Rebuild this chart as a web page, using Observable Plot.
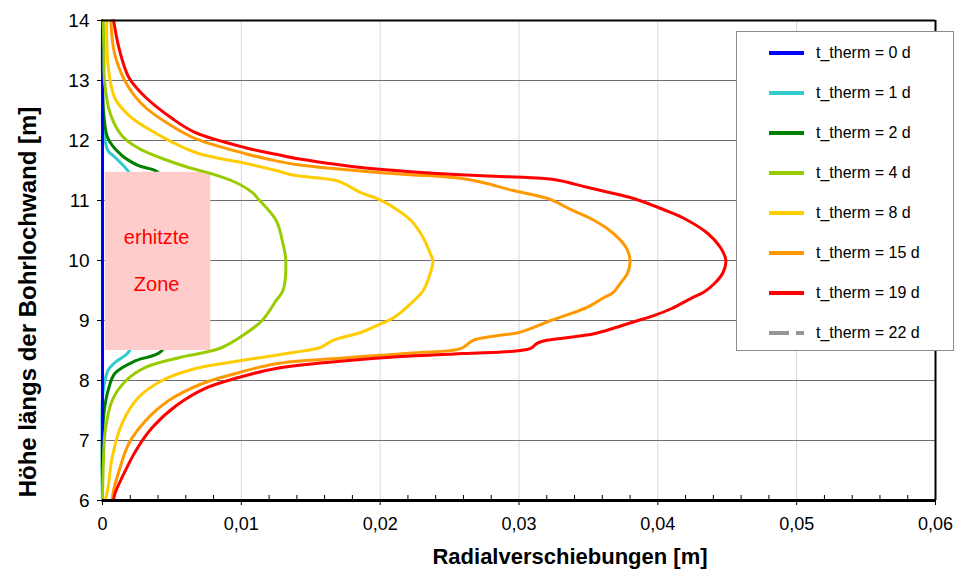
<!DOCTYPE html>
<html><head><meta charset="utf-8">
<script src="https://cdn.jsdelivr.net/npm/d3@7"></script>
<script src="https://cdn.jsdelivr.net/npm/@observablehq/plot@0.6"></script>
<style>
body{margin:0;background:#fff;font-family:"Liberation Sans",Arial,sans-serif;}
#wrap{position:relative;width:955px;height:569px;overflow:hidden;}
#legend{position:absolute;left:736px;top:31px;width:216px;height:318px;border:1px solid #8c8c8c;background:#fff;}
.row{position:absolute;left:0;width:216px;height:24px;}
.row svg{position:absolute;left:32px;top:10px;}
.row span{position:absolute;left:79px;top:0;font-size:16px;line-height:24px;white-space:nowrap;color:#000;}
#ytitle{position:absolute;left:28px;top:302px;transform:translate(-50%,-50%) rotate(-90deg);font-weight:bold;font-size:24px;white-space:nowrap;line-height:24px;}
#xtitle{position:absolute;left:570px;top:546px;transform:translateX(-50%);font-weight:bold;font-size:22px;white-space:nowrap;line-height:22px;}
</style></head><body><div id="wrap"></div>
<script>
// ---- data ----
const xTicks = [0, 0.01, 0.02, 0.03, 0.04, 0.05, 0.06];
const xMinor = [0.002,0.004,0.006,0.008,0.012,0.014,0.016,0.018,0.022,0.024,0.026,0.028,0.032,0.034,0.036,0.038,0.042,0.044,0.046,0.048,0.052,0.054,0.056,0.058];
const yTicks = [6, 7, 8, 9, 10, 11, 12, 13, 14];
const xGrid = [0.01, 0.02, 0.03, 0.04, 0.05];
const yGrid = [7, 8, 9, 10, 11, 12, 13];

const seriesNames = ["t_therm = 0 d","t_therm = 1 d","t_therm = 2 d","t_therm = 4 d","t_therm = 8 d","t_therm = 15 d","t_therm = 19 d","t_therm = 22 d"];
const seriesColors = ["#0000ff","#33cccc","#008000","#99cc00","#ffcc00","#ff9900","#ff0000","#969696"];

const h0 = [14, 6];
const v0 = [0, 0];

const h1 = [14, 12.6, 12.25, 12.1, 11.83, 11.72, 11.47, 11.0, 10.0, 9.0, 8.48, 8.3, 8.17, 7.9, 7.72, 6.0];
const v1 = [0, 0, 0, 0.0001, 0.0004, 0.0009, 0.0019, 0.0026, 0.0030, 0.0026, 0.0019, 0.0009, 0.0004, 0.0001, 0, 0];

const h2 = [14, 13.08, 12.42, 12.03, 11.75, 11.58, 11.47, 11.0, 10.0, 9.0, 8.48, 8.33, 8.12, 7.83, 7.45, 7.0, 6.0];
const v2 = [0, 0, 0.0001, 0.0004, 0.0014, 0.0026, 0.0040, 0.0052, 0.0058, 0.0052, 0.0042, 0.0024, 0.0009, 0.0004, 0.0001, 0, 0];

const h4 = [14, 13.5, 12.97, 12.42, 12.08, 11.87, 11.7, 11.55, 11.45, 11.3, 11.13, 11.03, 10.67, 10.28, 10.0, 9.5, 9.33, 9.0, 8.75, 8.55, 8.47, 8.38, 8.22, 8.0, 7.67, 7.17, 6.55, 6.0];
const v4 = [0.00005, 0.0001, 0.00015, 0.0006, 0.0014, 0.0026, 0.0043, 0.0062, 0.0078, 0.0096, 0.0108, 0.0112, 0.0125, 0.0130, 0.0132, 0.0130, 0.0125, 0.0115, 0.0101, 0.0086, 0.0074, 0.0055, 0.0031, 0.0017, 0.0007, 0.0002, 0.00005, 0];

const h8 = [14, 13.25, 12.7, 12.42, 12.22, 11.8, 11.62, 11.5, 11.42, 11.33, 11.22, 11.13, 11.03, 10.88, 10.67, 10.38, 10.12, 10.0, 9.78, 9.5, 9.28, 9.05, 8.92, 8.8, 8.67, 8.55, 8.47, 8.42, 8.3, 8.2, 8.0, 7.72, 7.28, 6.72, 6.22, 6.0];
const v8 = [0.0003, 0.0004, 0.0009, 0.0019, 0.0031, 0.0067, 0.0103, 0.0125, 0.0138, 0.0169, 0.0179, 0.0186, 0.0198, 0.0210, 0.0222, 0.0231, 0.0236, 0.0238, 0.0236, 0.0231, 0.0222, 0.0210, 0.0198, 0.0186, 0.0166, 0.0157, 0.0138, 0.0125, 0.0091, 0.0067, 0.0043, 0.0026, 0.0014, 0.0007, 0.0004, 0.0002];

const h15 = [14, 13.42, 12.88, 12.55, 12.27, 12.03, 11.78, 11.66, 11.59, 11.54, 11.49, 11.43, 11.4, 11.37, 11.3, 11.17, 11.03, 10.83, 10.67, 10.45, 10.22, 10.0, 9.78, 9.62, 9.47, 9.38, 9.22, 9.0, 8.8, 8.75, 8.67, 8.53, 8.47, 8.42, 8.37, 8.28, 8.13, 7.95, 7.67, 7.33, 6.95, 6.5, 6.17, 6.0];
const v15 = [0.0006, 0.0009, 0.0019, 0.0031, 0.0048, 0.0067, 0.0103, 0.0125, 0.0142, 0.0162, 0.0186, 0.0222, 0.0244, 0.0258, 0.0274, 0.0295, 0.0321, 0.0339, 0.0354, 0.0368, 0.0377, 0.0380, 0.0378, 0.0373, 0.0368, 0.0361, 0.0349, 0.0323, 0.0300, 0.0285, 0.0267, 0.0258, 0.0231, 0.0200, 0.0171, 0.0125, 0.0098, 0.0072, 0.0048, 0.0031, 0.0019, 0.0012, 0.0008, 0.0007];

const h19 = [14, 13.53, 13.05, 12.72, 12.37, 12.13, 11.88, 11.77, 11.69, 11.62, 11.55, 11.48, 11.43, 11.4, 11.37, 11.33, 11.22, 11.15, 11.03, 10.85, 10.7, 10.45, 10.22, 10.0, 9.8, 9.62, 9.47, 9.37, 9.2, 9.08, 8.98, 8.87, 8.78, 8.72, 8.67, 8.62, 8.53, 8.45, 8.4, 8.32, 8.2, 8.05, 7.87, 7.58, 7.22, 6.83, 6.38, 6.12, 6.0];
const v19 = [0.0008, 0.0012, 0.0019, 0.0031, 0.0050, 0.0067, 0.0103, 0.0125, 0.0142, 0.0162, 0.0186, 0.0222, 0.0258, 0.0287, 0.0316, 0.0330, 0.0349, 0.0362, 0.0383, 0.0404, 0.0419, 0.0436, 0.0445, 0.0449, 0.0447, 0.0441, 0.0433, 0.0424, 0.0410, 0.0397, 0.0383, 0.0368, 0.0354, 0.0337, 0.0320, 0.0313, 0.0308, 0.0260, 0.0215, 0.0171, 0.0125, 0.0098, 0.0074, 0.0053, 0.0036, 0.0024, 0.0014, 0.0009, 0.0008];

const zone = [{x1: 0.0002, x2: 0.0078, y1: 8.5, y2: 11.47}];
const zoneLabels = [{t: "erhitzte", x: 0.0039, y: 10.38}, {t: "Zone", x: 0.0039, y: 9.6}];

// ---- build ----
const rows = (h, v) => h.map((d, i) => ({h: d, v: v[i]}));
const line = (h, v, k) => Plot.line(rows(h, v), {x: "v", y: "h", stroke: seriesColors[k], strokeWidth: 3, curve: "catmull-rom"});
const fmt = d => d === 0 ? "0" : d.toFixed(2).replace(".", ",");

const chart = Plot.plot({
  width: 955, height: 569,
  marginLeft: 102, marginRight: 20, marginTop: 20, marginBottom: 69,
  style: {fontFamily: '"Liberation Sans", Arial, sans-serif', fontSize: "18px", color: "#000", background: "#fff", overflow: "visible"},
  x: {domain: [0, 0.06]},
  y: {domain: [6, 14]},
  marks: [
    Plot.gridX(xGrid, {stroke: "#d9d9d9", strokeOpacity: 1}),
    Plot.gridY(yGrid, {stroke: "#6e6e6e", strokeOpacity: 1}),
    line(h1, v1, 1),
    line(h2, v2, 2),
    Plot.rect(zone, {x1: "x1", x2: "x2", y1: "y1", y2: "y2", fill: "#ffcccc"}),
    line(h0, v0, 0),
    line(h4, v4, 3),
    line(h8, v8, 4),
    line(h15, v15, 5),
    line(h19, v19, 6),
    Plot.text(zoneLabels, {x: "x", y: "y", text: "t", fill: "#ff0000", fontSize: 20}),
    Plot.ruleY([14], {stroke: "#000", strokeWidth: 2}),
    Plot.ruleX([0.06], {stroke: "#000", strokeWidth: 2}),
    Plot.ruleY([6], {stroke: "#000", strokeWidth: 3}),
    Plot.axisX(xTicks, {tickSize: 5, tickPadding: 12, tickFormat: fmt, label: null}),
    Plot.axisX(xMinor, {tickSize: 5, dy: -5, tickFormat: () => "", label: null}),
    Plot.axisY(yTicks, {tickSize: 5, tickPadding: 8, tickFormat: d => String(d), label: null, fontSize: 19})
  ]
});

const wrap = document.getElementById("wrap");
wrap.appendChild(chart);

const yt = document.createElement("div"); yt.id = "ytitle"; yt.textContent = "Höhe längs der Bohrlochwand [m]"; wrap.appendChild(yt);
const xt = document.createElement("div"); xt.id = "xtitle"; xt.textContent = "Radialverschiebungen [m]"; wrap.appendChild(xt);

const lg = document.createElement("div"); lg.id = "legend";
seriesNames.forEach((name, i) => {
  const r = document.createElement("div"); r.className = "row"; r.style.top = (9 + 40 * i) + "px";
  const dash = i === 7 ? ' stroke-dasharray="20,7"' : '';
  r.innerHTML = `<svg width="35" height="4"><line x1="0" y1="2" x2="35" y2="2" stroke="${seriesColors[i]}" stroke-width="4"${dash}/></svg><span>${name}</span>`;
  lg.appendChild(r);
});
wrap.appendChild(lg);
</script></body></html>
